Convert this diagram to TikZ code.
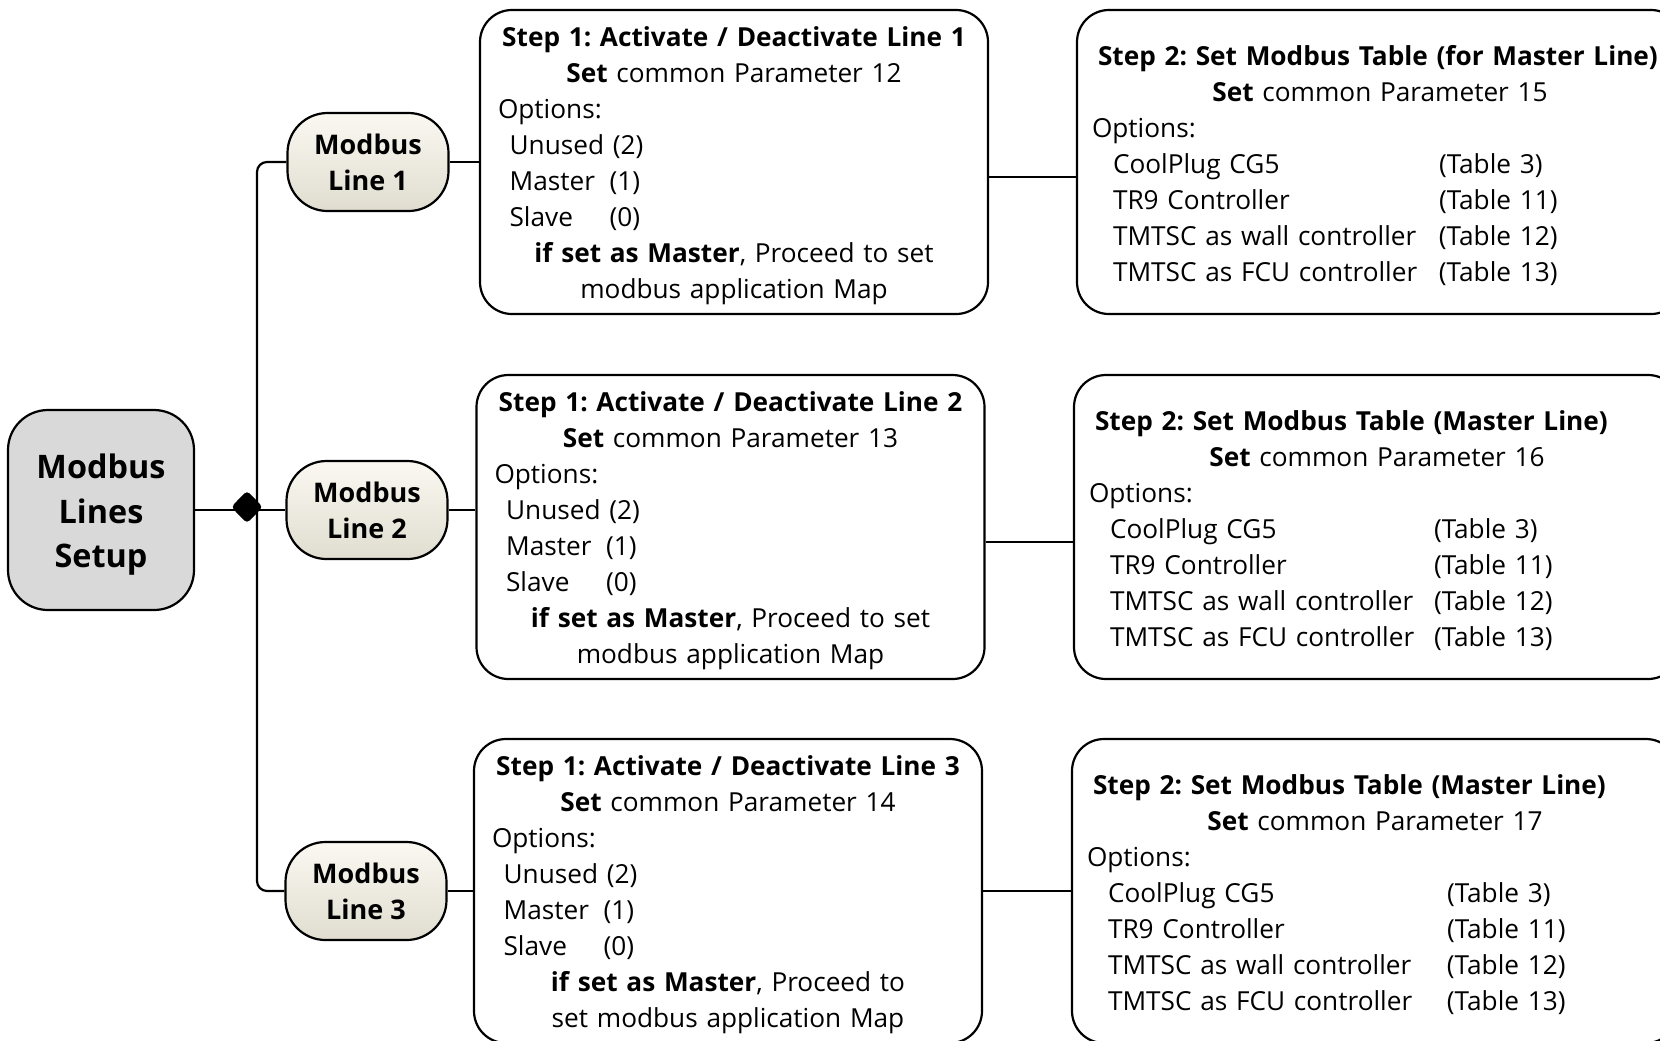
\documentclass[tikz,border=0pt]{standalone}
\usepackage{fontspec}
\setmainfont{Open Sans}
\usepackage{xcolor}
\usepackage{tikz}
\usetikzlibrary{shapes.geometric, calc}

\definecolor{rootgray}{RGB}{217,217,217}
\definecolor{creamtop}{RGB}{250,248,241}
\definecolor{creambot}{RGB}{224,221,208}

\newlength{\stepaw}\setlength{\stepaw}{236pt}
\newlength{\stepbw}\setlength{\stepbw}{288pt}

% step 1 box text: line no, parameter, last two lines
\newcommand{\stepone}[4]{%
  \makebox[\stepaw]{\rule{0pt}{14pt}\bfseries Step 1: Activate / Deactivate Line #1}\\
  \makebox[\stepaw]{\textbf{Set} common Parameter #2}\\
  Options:\\
  \hspace*{5.8pt}Unused (2)\\
  \hspace*{5.8pt}\makebox[50pt][l]{Master}(1)\\
  \hspace*{5.8pt}\makebox[50pt][l]{Slave}(0)\\
  \makebox[\stepaw]{#3}\\
  \makebox[\stepaw]{#4}}

% step 2 box text: header, parameter, column
\newcommand{\steptwo}[3]{%
  \rule{0pt}{13.2pt}\hspace*{3pt}\textbf{Step 2: Set Modbus Table #1}\\
  \makebox[\stepbw]{\textbf{Set} common Parameter #2}\\
  Options:\\
  \hspace*{10.5pt}\makebox[#3][l]{CoolPlug CG5}(Table 3)\\
  \hspace*{10.5pt}\makebox[#3][l]{TR9 Controller}(Table 11)\\
  \hspace*{10.5pt}\makebox[#3][l]{TMTSC as wall controller}(Table 12)\\
  \hspace*{10.5pt}\makebox[#3][l]{TMTSC as FCU controller}(Table 13)}

\tikzset{
  link/.style={line width=1.1pt},
  rootbox/.style={draw, line width=1.1pt, rounded corners=20pt, fill=rootgray,
    minimum width=93pt, minimum height=100pt, align=center,
    font=\fontsize{16.2}{22.2}\selectfont\bfseries},
  linebox/.style={draw, line width=1.1pt, rounded corners=20pt,
    top color=creamtop, bottom color=creambot,
    minimum width=80.5pt, minimum height=49pt, align=center,
    font=\fontsize{13.5}{18}\selectfont\bfseries},
  stepabox/.style={draw, line width=1.1pt, rounded corners=16pt, fill=white,
    minimum height=152pt, text width=\stepaw, inner xsep=9pt, align=left,
    font=\fontsize{13.1}{18}\selectfont\frenchspacing},
  stepbbox/.style={draw, line width=1.1pt, rounded corners=16pt, fill=white,
    minimum height=152pt, text width=\stepbw, inner xsep=7.5pt, align=left,
    font=\fontsize{13.1}{18}\selectfont\frenchspacing}
}

\begin{document}
\begin{tikzpicture}[x=0.5pt, y=-0.5pt]
  \useasboundingbox (0,0) rectangle (1660,1040);

  \node[rootbox] (root) at (101,510) {\rule{0pt}{17pt}Modbus\\Lines\\Setup};

  \node[linebox] (line1) at (368,162) {Modbus\\Line 1};
  \node[linebox] (line2) at (367,510) {Modbus\\Line 2};
  \node[linebox] (line3) at (366,891) {Modbus\\Line 3};
  \coordinate (trunk) at (257,510);

  \node[stepabox] (act1) at (734,162) {\stepone{1}{12}{\textbf{if set as Master}, Proceed to set}{modbus application Map}};
  \node[stepabox] (act2) at (730.5,527) {\stepone{2}{13}{\textbf{if set as Master}, Proceed to set}{modbus application Map}};
  \node[stepabox] (act3) at (728,891) {\stepone{3}{14}{\textbf{if set as Master}, Proceed to}{set modbus application Map}};

  \node[stepbbox] (tab1) at (1380,162) {\steptwo{(for Master Line)}{15}{163pt}};
  \node[stepbbox] (tab2) at (1377,527) {\steptwo{(Master Line)}{16}{162pt}};
  \node[stepbbox] (tab3) at (1375,891) {\steptwo{(Master Line)}{17}{169.5pt}};

  \draw[link] (root) -- (line2);
  \draw[link, rounded corners=5pt] (line1.west) -| (trunk) |- (line3.west);
  \draw[link] (line1) -- (act1);
  \draw[link] (line2.east) -- (line2.east -| act2.west);
  \draw[link] (line3) -- (act3);

  \draw[link] (act1.east |- 0,177) -- (tab1.west |- 0,177);
  \draw[link] (act2.east |- 0,542) -- (tab2.west |- 0,542);
  \draw[link] (act3) -- (tab3);

  \node[diamond, fill=black, rounded corners=2pt, inner sep=0pt,
    minimum width=16pt, minimum height=16.5pt] (knot) at (247,507) {};
\end{tikzpicture}
\end{document}
